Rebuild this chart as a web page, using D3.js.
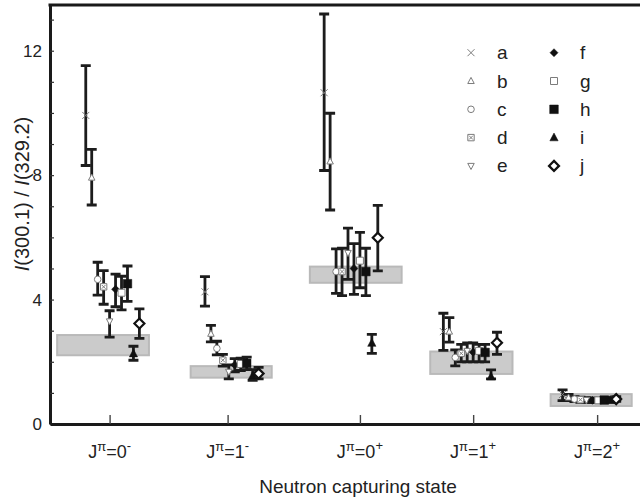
<!DOCTYPE html>
<html>
<head>
<meta charset="utf-8">
<script src="https://cdn.jsdelivr.net/npm/d3@7"></script>
<style>
  body { margin: 0; background: #fff; }
  text { font-family: "Liberation Sans", Arial, sans-serif; fill: #222; }
</style>
</head>
<body>
<div id="chart"></div>
<script>
// capturing states (x categories)
const spin = ["0", "1", "0", "1", "2"];
const parity = ["-", "-", "+", "+", "+"];
const clusterPos = [1, 2, 3, 4, 5];          // where series "e" sits
const tickPos = [1, 1.99, 3.1, 4.05, 5.09];  // axis ticks / labels

// series a..j, one [value, low, high] per state
const seriesNames = ["a", "b", "c", "d", "e", "f", "g", "h", "i", "j"];
const sA = [[9.92, 8.31, 11.52], [4.25, 3.79, 4.74], [10.65, 8.15, 13.18], [2.97, 2.37, 3.56], [0.95, 0.75, 1.10]];
const sB = [[7.92, 7.04, 8.83], [2.90, 2.64, 3.17], [8.44, 6.88, 9.99], [2.97, 2.63, 3.42], [0.85, 0.75, 0.95]];
const sC = [[4.65, 4.14, 5.20], [2.43, 2.22, 2.66], [4.90, 4.20, 5.63], [2.14, 1.87, 2.38], [0.80, 0.72, 0.88]];
const sD = [[4.41, 3.85, 4.93], [2.05, 1.86, 2.24], [4.90, 4.13, 5.65], [2.27, 2.00, 2.56], [0.78, 0.70, 0.86]];
const sE = [[3.30, 2.79, 3.64], [1.68, 1.45, 1.90], [5.50, 4.65, 6.30], [2.35, 2.00, 2.61], [0.77, 0.70, 0.85]];
const sF = [[4.33, 3.77, 4.82], [1.90, 1.68, 2.10], [5.00, 4.17, 5.80], [2.31, 2.00, 2.61], [0.76, 0.69, 0.83]];
const sG = [[4.22, 3.67, 4.75], [1.93, 1.72, 2.12], [5.25, 4.38, 6.16], [2.35, 2.00, 2.56], [0.76, 0.69, 0.83]];
const sH = [[4.51, 3.94, 5.08], [1.95, 1.75, 2.15], [4.90, 4.13, 5.65], [2.30, 2.00, 2.56], [0.77, 0.70, 0.85]];
const sI = [[2.26, 2.05, 2.50], [1.55, 1.40, 1.75], [2.60, 2.27, 2.88], [1.52, 1.45, 1.74], [0.77, 0.70, 0.85]];
const sJ = [[3.23, 2.75, 3.70], [1.62, 1.45, 1.82], [5.99, 4.92, 7.03], [2.61, 2.24, 2.95], [0.80, 0.73, 0.88]];
const seriesData = [sA, sB, sC, sD, sE, sF, sG, sH, sI, sJ];

// grey bands (expected ranges)
const bandLow = [2.21, 1.49, 4.54, 1.61, 0.58];
const bandHigh = [2.86, 1.86, 5.06, 2.33, 0.96];
const bandFrom = [0.56, 1.68, 2.68, 3.69, 4.70];
const bandTo = [1.33, 2.36, 3.45, 4.38, 5.38];

const yTicks = d3.range(0, 14);

// ---- layout
const width = 640, height = 502;
const svg = d3.select("#chart").append("svg")
    .attr("width", width)
    .attr("height", height);

const x = d3.scaleLinear().domain([0.5, 5.5]).range([50, 646]);
const y = d3.scaleLinear().domain([0, 13.47]).range([424, 5]);
const step = 0.05; // spacing of series inside a cluster

// marker styles
const grey = "#7c7c7c";
const markers = {
    a: { shape: "x", r: 3.5, stroke: grey, fill: "none", sw: 1 },
    b: { shape: "tri", r: 3.6, stroke: grey, fill: "#fff", sw: 1 },
    c: { shape: "circle", r: 3.3, stroke: grey, fill: "#fff", sw: 1 },
    d: { shape: "boxx", r: 3.2, stroke: grey, fill: "#fff", sw: 1 },
    e: { shape: "tridown", r: 3.6, stroke: grey, fill: "#fff", sw: 1 },
    f: { shape: "diamond", r: 4, stroke: "#111", fill: "#111", sw: 0.5 },
    g: { shape: "square", r: 3.5, stroke: grey, fill: "#fff", sw: 1 },
    h: { shape: "square", r: 4.3, stroke: "#111", fill: "#111", sw: 0.5 },
    i: { shape: "tri", r: 4.6, stroke: "#111", fill: "#111", sw: 0.5 },
    j: { shape: "diamond", r: 5, stroke: "#111", fill: "#fff", sw: 2.2 }
};

function shapePath(s, r) {
    switch (s) {
        case "x": return `M${-r},${-r}L${r},${r}M${-r},${r}L${r},${-r}`;
        case "tri": return `M0,${-r}L${r * 0.9},${r * 0.7}L${-r * 0.9},${r * 0.7}Z`;
        case "tridown": return `M0,${r}L${r * 0.9},${-r * 0.7}L${-r * 0.9},${-r * 0.7}Z`;
        case "circle": return d3.arc()({ innerRadius: 0, outerRadius: r, startAngle: 0, endAngle: 2 * Math.PI });
        case "square": return `M${-r},${-r}H${r}V${r}H${-r}Z`;
        case "boxx": return `M${-r},${-r}H${r}V${r}H${-r}Z` +
            `M${-r * 0.6},${-r * 0.6}L${r * 0.6},${r * 0.6}M${-r * 0.6},${r * 0.6}L${r * 0.6},${-r * 0.6}`;
        case "diamond": return `M0,${-r}L${r},0L0,${r}L${-r},0Z`;
    }
}

// grey bands
svg.append("g").selectAll("rect")
    .data(bandLow.map((lo, i) => ({ lo, hi: bandHigh[i], from: bandFrom[i], to: bandTo[i] })))
    .join("rect")
    .attr("x", d => x(d.from))
    .attr("y", d => y(d.hi))
    .attr("width", d => x(d.to) - x(d.from))
    .attr("height", d => y(d.lo) - y(d.hi))
    .attr("fill", "#cbcbcb")
    .attr("stroke", "#b9b9b9")
    .attr("stroke-width", 2);

// flatten points
const points = [];
seriesData.forEach((rows, si) => {
    rows.forEach((r, ci) => {
        points.push({
            name: seriesNames[si],
            xv: clusterPos[ci] + (si - 4) * step,
            v: r[0], lo: r[1], hi: r[2]
        });
    });
});

// error bars
const capW = 5;
const bars = svg.append("g")
    .attr("stroke", "#1c1c1c")
    .attr("stroke-width", 2.8)
    .attr("fill", "none");

bars.selectAll("path")
    .data(points)
    .join("path")
    .attr("d", d => {
        const px = x(d.xv), y0 = y(d.lo), y1 = y(d.hi);
        return `M${px},${y0}V${y1}M${px - capW},${y1}H${px + capW}M${px - capW},${y0}H${px + capW}`;
    });

// markers
svg.append("g").selectAll("path")
    .data(points)
    .join("path")
    .attr("transform", d => `translate(${x(d.xv)},${y(d.v)})`)
    .attr("d", d => shapePath(markers[d.name].shape, markers[d.name].r))
    .attr("fill", d => markers[d.name].fill)
    .attr("stroke", d => markers[d.name].stroke)
    .attr("stroke-width", d => markers[d.name].sw);

// axes
const yAxis = d3.axisLeft(y)
    .tickValues(yTicks)
    .tickSizeInner(-4)
    .tickSizeOuter(0)
    .tickPadding(8)
    .tickFormat(d => d % 4 === 0 ? d : "");

const yAxisGroup = svg.append("g")
    .attr("transform", "translate(50,0)")
    .call(yAxis);

yAxisGroup.select("path.domain").attr("stroke", "#1a1a1a").attr("stroke-width", 3);
yAxisGroup.selectAll("line").attr("stroke", "#333").attr("stroke-width", 1.2);
yAxisGroup.selectAll("text")
    .attr("font-size", 17)
    .attr("font-family", "Liberation Sans, Arial, sans-serif")
    .attr("fill", "#222");

const xAxis = d3.axisBottom(x)
    .tickValues(tickPos)
    .tickSizeInner(-9)
    .tickSizeOuter(0)
    .tickFormat("");

const xAxisGroup = svg.append("g")
    .attr("transform", `translate(0,${y(0)})`)
    .call(xAxis);

xAxisGroup.select("path.domain").attr("stroke", "#1a1a1a").attr("stroke-width", 3);
xAxisGroup.selectAll("line").attr("stroke", "#444").attr("stroke-width", 1.4);

// top frame line
svg.append("line")
    .attr("x1", 48.5).attr("x2", width)
    .attr("y1", y.range()[1]).attr("y2", y.range()[1])
    .attr("stroke", "#1a1a1a")
    .attr("stroke-width", 3);

// category labels with superscripts
const catLabels = svg.append("g").selectAll("text")
    .data(tickPos)
    .join("text")
    .attr("x", d => x(d))
    .attr("y", 458)
    .attr("text-anchor", "middle")
    .attr("font-size", 18);

catLabels.each(function (d, i) {
    const t = d3.select(this);
    t.append("tspan").text("J");
    t.append("tspan").attr("font-size", 13).attr("dy", -7).text("\u03c0");
    t.append("tspan").attr("dy", 7).text("=" + spin[i]);
    t.append("tspan").attr("font-size", 13).attr("dy", -8).text(parity[i] === "-" ? "-" : "+");
});

// axis titles
svg.append("text")
    .attr("x", 358)
    .attr("y", 493)
    .attr("text-anchor", "middle")
    .attr("font-size", 19)
    .text("Neutron capturing state");

const yTitle = svg.append("text")
    .attr("transform", "translate(29,194) rotate(-90)")
    .attr("text-anchor", "middle")
    .attr("font-size", 20);
yTitle.append("tspan").attr("font-style", "italic").text("I");
yTitle.append("tspan").text("(300.1) / ");
yTitle.append("tspan").attr("font-style", "italic").text("I");
yTitle.append("tspan").text("(329.2)");

// legend
const legend = svg.append("g");
const legItems = legend.selectAll("g")
    .data(seriesNames)
    .join("g")
    .attr("transform", (d, i) => `translate(${i < 5 ? 471 : 554},${52.7 + (i % 5) * 28.3})`);

legItems.append("path")
    .attr("d", d => shapePath(markers[d].shape, markers[d].r))
    .attr("fill", d => markers[d].fill)
    .attr("stroke", d => markers[d].stroke)
    .attr("stroke-width", d => markers[d].sw);

legItems.append("text")
    .attr("x", 26)
    .attr("y", 6.5)
    .attr("font-size", 19)
    .text(d => d);
</script>
</body>
</html>
